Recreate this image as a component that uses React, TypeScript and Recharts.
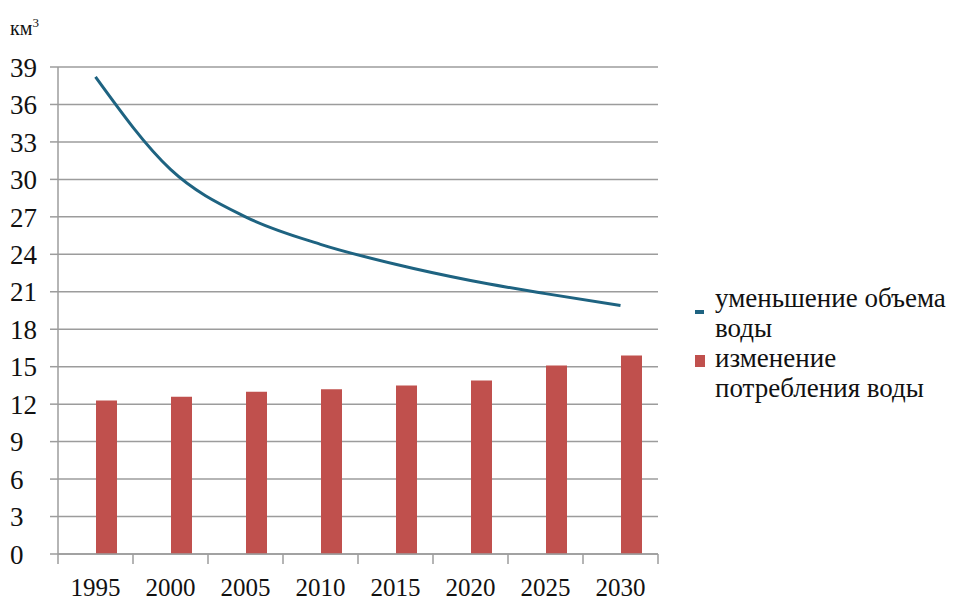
import { ComposedChart, Bar, Line, XAxis, YAxis, CartesianGrid, Legend } from "recharts";

const years = ["1995", "2000", "2005", "2010", "2015", "2020", "2025", "2030"];
// км³
const volumeDecrease = [38.2, 30.8, 27.0, 24.8, 23.2, 21.9, 20.85, 19.9];
const consumptionChange = [12.3, 12.6, 13.0, 13.2, 13.5, 13.9, 15.1, 15.9];
const yTicks = [0, 3, 6, 9, 12, 15, 18, 21, 24, 27, 30, 33, 36, 39];

const data = years.map((year, i) => ({
  year,
  volume: volumeDecrease[i],
  consumption: consumptionChange[i],
}));

const FONT = "Liberation Serif, DejaVu Serif, serif";
const GRID = "#9c9c9c";
const LINE_COLOR = "#1e6381";
const BAR_COLOR = "#c0504d";

// smoothed line: Catmull-Rom tangents inside, parabolic tangents at both ends,
// drawn as cubic beziers
function smoothCurve(context: any) {
  let pts: [number, number][] = [];
  return {
    areaStart() {},
    areaEnd() {},
    lineStart() {
      pts = [];
    },
    point(x: number, y: number) {
      pts.push([+x, +y]);
    },
    lineEnd() {
      const n = pts.length;
      if (!n) return;
      context.moveTo(pts[0][0], pts[0][1]);
      if (n === 1) return;
      const d: [number, number][] = pts.map((p, i) => {
        if (i === 0 || i === n - 1) return [0, 0];
        return [(pts[i + 1][0] - pts[i - 1][0]) / 2, (pts[i + 1][1] - pts[i - 1][1]) / 2];
      });
      if (n === 2) {
        d[0] = [pts[1][0] - pts[0][0], pts[1][1] - pts[0][1]];
        d[1] = d[0];
      } else {
        d[0] = [
          (3 * (pts[1][0] - pts[0][0]) - d[1][0]) / 2,
          (3 * (pts[1][1] - pts[0][1]) - d[1][1]) / 2,
        ];
        d[n - 1] = [
          (3 * (pts[n - 1][0] - pts[n - 2][0]) - d[n - 2][0]) / 2,
          (3 * (pts[n - 1][1] - pts[n - 2][1]) - d[n - 2][1]) / 2,
        ];
      }
      for (let i = 0; i < n - 1; i++) {
        const a = pts[i];
        const b = pts[i + 1];
        context.bezierCurveTo(
          a[0] + d[i][0] / 3,
          a[1] + d[i][1] / 3,
          b[0] - d[i + 1][0] / 3,
          b[1] - d[i + 1][1] / 3,
          b[0],
          b[1]
        );
      }
    },
  };
}

// y labels are left-aligned against the chart edge
function YTick({ y, payload }: any) {
  return (
    <text x={10} y={y} dy="0.36em" textAnchor="start" fontFamily={FONT} fontSize={27} fill="#111">
      {payload.value}
    </text>
  );
}

// year label plus tick marks on the category borders
function XTick({ x, y, payload, index, visibleTicksCount }: any) {
  const half = payload.offset || 0;
  const last = index === visibleTicksCount - 1;
  return (
    <g>
      <line x1={x - half} x2={x - half} y1={y} y2={y + 10} stroke={GRID} strokeWidth={1.5} />
      {last && <line x1={x + half} x2={x + half} y1={y} y2={y + 10} stroke={GRID} strokeWidth={1.5} />}
      <text x={x} y={y + 42} textAnchor="middle" fontFamily={FONT} fontSize={25} fill="#111">
        {payload.value}
      </text>
    </g>
  );
}

function LegendBox({ payload }: any) {
  const items = (payload || [])
    .filter((p: any) => p.type !== "none")
    .sort((a: any, b: any) => (a.type === "line" ? -1 : 0) - (b.type === "line" ? -1 : 0));
  return (
    <div style={{ fontFamily: FONT, fontSize: 27, lineHeight: "30px", color: "#111" }}>
      {items.map((p: any) => (
        <div key={p.value} style={{ display: "flex", alignItems: "flex-start" }}>
          <div style={{ width: 22, height: 30, position: "relative", flexShrink: 0 }}>
            {p.type === "line" ? (
              <div style={{ position: "absolute", left: 2, top: 27, width: 9, height: 4, background: p.color }} />
            ) : (
              <div style={{ position: "absolute", left: 2, top: 12, width: 10, height: 12, background: p.color }} />
            )}
          </div>
          <div style={{ width: 245 }}>{p.value}</div>
        </div>
      ))}
    </div>
  );
}

export default function App() {
  return (
    <div style={{ position: "absolute", left: 0, top: 0, width: 960, height: 601, background: "#fff" }}>
      <div style={{ position: "absolute", left: 10, top: 15, fontFamily: FONT, fontSize: 20, color: "#111" }}>
        км<sup style={{ fontSize: 13 }}>3</sup>
      </div>
      <ComposedChart
        width={960}
        height={601}
        data={data}
        margin={{ top: 67, right: 302, bottom: 0, left: 0 }}
        barGap={0}
      >
        <CartesianGrid vertical={false} stroke={GRID} strokeWidth={1.5} />
        <XAxis
          dataKey="year"
          axisLine={{ stroke: GRID, strokeWidth: 1.5 }}
          tickLine={false}
          tickSize={0}
          tickMargin={0}
          height={47}
          interval={0}
          tick={<XTick />}
        />
        <YAxis
          domain={[0, 39]}
          ticks={yTicks}
          width={58}
          interval={0}
          tickSize={8}
          axisLine={{ stroke: GRID, strokeWidth: 1.5 }}
          tickLine={{ stroke: GRID, strokeWidth: 1.5 }}
          tick={<YTick />}
        />
        <Legend
          layout="vertical"
          align="center"
          verticalAlign="middle"
          wrapperStyle={{ left: 693, top: 283, width: 267 }}
          content={<LegendBox />}
        />
        {/* empty slot to the left of each red bar */}
        <Bar dataKey="spacer" barSize={21} fill="none" legendType="none" isAnimationActive={false} />
        <Bar
          dataKey="consumption"
          name="изменение потребления воды"
          barSize={21}
          fill={BAR_COLOR}
          isAnimationActive={false}
        />
        <Line
          dataKey="volume"
          name="уменьшение объема воды"
          type={smoothCurve as any}
          stroke={LINE_COLOR}
          strokeWidth={3}
          dot={false}
          activeDot={false}
          isAnimationActive={false}
        />
      </ComposedChart>
    </div>
  );
}
